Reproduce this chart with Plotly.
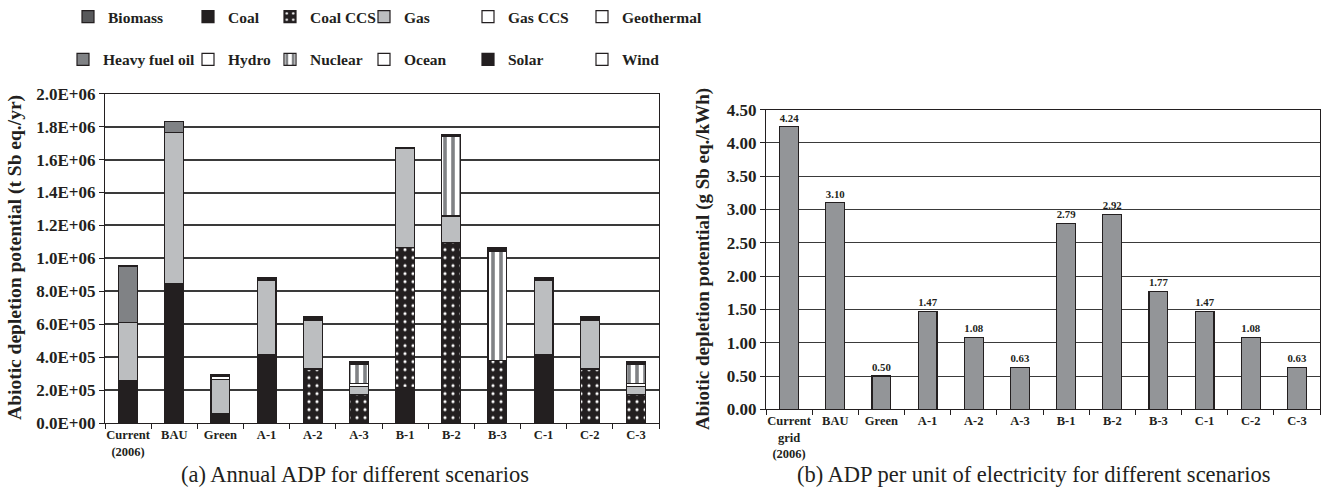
import plotly.graph_objects as go

# ---------------- data ----------------
categories_a = ["Current<br>(2006)", "BAU", "Green", "A-1", "A-2", "A-3",
                "B-1", "B-2", "B-3", "C-1", "C-2", "C-3"]
categories_b = ["Current<br>grid<br>(2006)", "BAU", "Green", "A-1", "A-2", "A-3",
                "B-1", "B-2", "B-3", "C-1", "C-2", "C-3"]

biomass = [0, 0, 0, 5e3, 5e3, 5e3, 0, 0, 5e3, 5e3, 5e3, 5e3]
coal = [2.58e5, 8.50e5, 5.6e4, 4.11e5, 0, 0, 2.18e5, 0, 0, 4.11e5, 0, 0]
coal_ccs = [0, 0, 0, 0, 3.24e5, 1.68e5, 8.48e5, 1.096e6, 3.78e5, 0, 3.24e5, 1.68e5]
gas = [3.51e5, 9.16e5, 2.08e5, 4.48e5, 2.93e5, 5.1e4, 5.99e5, 1.61e5, 0, 4.48e5, 2.93e5, 5.1e4]
gas_ccs = [0] * 12
geothermal = [0] * 12
heavy_fuel_oil = [3.45e5, 6.6e4, 0, 0, 0, 0, 0, 0, 0, 0, 0, 0]
hydro = [0, 0, 2.0e4, 0, 0, 1.5e4, 0, 0, 0, 0, 0, 1.5e4]
nuclear = [0, 0, 0, 0, 0, 1.2e5, 0, 4.85e5, 6.58e5, 0, 0, 1.2e5]
ocean = [0] * 12
solar = [0, 0, 1.0e4, 2.0e4, 2.8e4, 8e3, 1.0e4, 1.0e4, 2.5e4, 2.0e4, 2.8e4, 8e3]
wind = [0, 0, 0, 0, 0, 9e3, 0, 0, 0, 0, 0, 9e3]

series_names = ["Biomass", "Coal", "Coal CCS", "Gas", "Gas CCS", "Geothermal",
                "Heavy fuel oil", "Hydro", "Nuclear", "Ocean", "Solar", "Wind"]
series_values = [biomass, coal, coal_ccs, gas, gas_ccs, geothermal,
                 heavy_fuel_oil, hydro, nuclear, ocean, solar, wind]

adp_per_kwh = [4.24, 3.10, 0.50, 1.47, 1.08, 0.63, 2.79, 2.92, 1.77, 1.47, 1.08, 0.63]

ytick_vals_a = [0, 2e5, 4e5, 6e5, 8e5, 1e6, 1.2e6, 1.4e6, 1.6e6, 1.8e6, 2e6]
ytick_text_a = ["0.0E+00", "2.0E+05", "4.0E+05", "6.0E+05", "8.0E+05", "1.0E+06",
                "1.2E+06", "1.4E+06", "1.6E+06", "1.8E+06", "2.0E+06"]

# ---------------- styles ----------------
FONT = "Liberation Serif"
BLACK = "#231f20"
styles = {
    "Biomass": dict(color="#58595b"),
    "Coal": dict(color=BLACK),
    "Coal CCS": dict(color=BLACK, pattern=dict(shape=".", fgcolor="white", bgcolor=BLACK,
                                              size=8, solidity=0.12, fillmode="replace")),
    "Gas": dict(color="#bcbec0"),
    "Gas CCS": dict(color="white"),
    "Geothermal": dict(color="#ffffff"),
    "Heavy fuel oil": dict(color="#808285"),
    "Hydro": dict(color="white"),
    "Nuclear": dict(color="white", pattern=dict(shape="|", fgcolor="#808285", bgcolor="white",
                                               size=8, solidity=0.45, fillmode="replace")),
    "Ocean": dict(color="white"),
    "Solar": dict(color=BLACK),
    "Wind": dict(color="#ffffff"),
}

fig = go.Figure()

legend_cols = [[86, 206, 288, 382, 486, 600], [81, 206, 288, 382, 486, 600]]
legend_rows = [15, 58]
W, H = 1324, 488

for i, (name, vals) in enumerate(zip(series_names, series_values)):
    lid = "legend" if i == 0 else f"legend{i+1}"
    st = styles[name]
    marker = dict(color=st["color"], line=dict(color=BLACK, width=1.2))
    if "pattern" in st:
        marker["pattern"] = st["pattern"]
    fig.add_trace(go.Bar(x=categories_a, y=vals, name=name, marker=marker,
                         xaxis="x", yaxis="y", legend=lid, showlegend=True,
                         hoverinfo="name+y"))
    col = i % 6
    row = i // 6
    fig.update_layout(**{lid: dict(
        x=(legend_cols[row][col] - 18) / W, y=1 - legend_rows[row] / H,
        xanchor="left", yanchor="middle", orientation="h",
        font=dict(family=FONT, size=15.5, color=BLACK, weight="bold"),
        bgcolor="rgba(0,0,0,0)", borderwidth=0, itemwidth=30,
    )})

fig.add_trace(go.Bar(x=categories_b, y=adp_per_kwh, xaxis="x2", yaxis="y2",
                     marker=dict(color="#939598", line=dict(color=BLACK, width=1.2)),
                     texttemplate="%{y:.2f}", textposition="outside",
                     textfont=dict(family=FONT, size=14, color=BLACK, weight="bold"),
                     cliponaxis=False, showlegend=False))

axis_common = dict(showline=True, linecolor=BLACK, linewidth=1.2, mirror=True)
tickfont_y = dict(family=FONT, size=17, color=BLACK, weight="bold")
tickfont_x = dict(family=FONT, size=12.5, color=BLACK, weight="bold")

fig.update_layout(
    width=W, height=H,
    margin=dict(l=0, r=0, t=0, b=0),
    paper_bgcolor="white", plot_bgcolor="white",
    barmode="stack", bargap=0.59,
    font=dict(family=FONT, color=BLACK),
    xaxis=dict(domain=[105 / W, 659 / W], anchor="y", type="category",
               tickson="boundaries", ticks="outside", ticklen=5, tickcolor=BLACK,
               tickangle=0, tickfont=tickfont_x, automargin=False, **axis_common),
    yaxis=dict(domain=[1 - 423 / H, 1 - 92 / H], anchor="x", range=[0, 2e6],
               tickvals=ytick_vals_a, ticktext=ytick_text_a,
               ticks="outside", ticklen=5, tickcolor=BLACK, tickfont=tickfont_y,
               showgrid=True, gridcolor="#3a3a3a", gridwidth=1.5, automargin=False,
               **axis_common),
    xaxis2=dict(domain=[766 / W, 1320 / W], anchor="y2", type="category",
                tickson="boundaries", ticks="outside", ticklen=5, tickcolor=BLACK,
                tickangle=0, tickfont=tickfont_x, automargin=False, **axis_common),
    yaxis2=dict(domain=[1 - 409 / H, 1 - 108 / H], anchor="x2", range=[0, 4.5],
                dtick=0.5, tickformat=".2f",
                ticks="outside", ticklen=5, tickcolor=BLACK, tickfont=tickfont_y,
                showgrid=True, gridcolor="#3a3a3a", gridwidth=1.2, automargin=False,
                **axis_common),
    annotations=[
        dict(text="<b>Abiotic depletion potential (t Sb eq./yr)</b>", textangle=-90,
             x=15 / W, y=1 - 257 / H, xref="paper", yref="paper", showarrow=False,
             xanchor="center", yanchor="middle",
             font=dict(family=FONT, size=19.5, color=BLACK)),
        dict(text="<b>Abiotic depletion potential (g Sb eq./kWh)</b>", textangle=-90,
             x=703 / W, y=1 - 258 / H, xref="paper", yref="paper", showarrow=False,
             xanchor="center", yanchor="middle",
             font=dict(family=FONT, size=19, color=BLACK)),
        dict(text="(a) Annual ADP for different scenarios",
             x=355 / W, y=1 - 474 / H, xref="paper", yref="paper", showarrow=False,
             xanchor="center", yanchor="middle",
             font=dict(family=FONT, size=22.5, color=BLACK)),
        dict(text="(b) ADP per unit of electricity for different scenarios",
             x=1034 / W, y=1 - 474 / H, xref="paper", yref="paper", showarrow=False,
             xanchor="center", yanchor="middle",
             font=dict(family=FONT, size=22.5, color=BLACK)),
    ],
)

fig.write_html("out.html")
